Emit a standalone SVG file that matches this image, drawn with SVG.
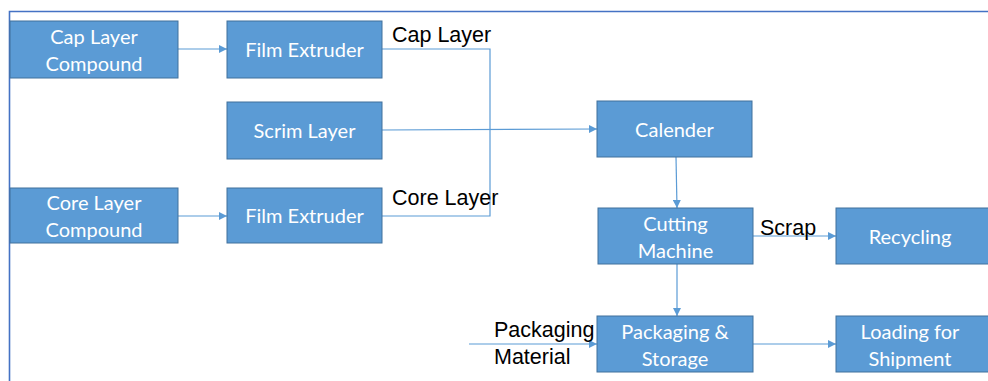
<svg xmlns="http://www.w3.org/2000/svg" width="988" height="381" viewBox="0 0 988 381">
<style>
.box{fill:#5B9BD5;stroke:#41719C;stroke-width:1}
.nt{fill:#fff;font-family:Lato,"Open Sans",sans-serif;font-size:20px;text-anchor:middle}
.lbl{fill:#000;font-family:"Liberation Sans",Arial,sans-serif;font-size:21.5px}
.con{fill:none;stroke:#5B9BD5;stroke-width:1.2}
</style>
<defs>
<marker id="arr" viewBox="0 0 10 10" refX="10" refY="5" markerWidth="8" markerHeight="8" markerUnits="userSpaceOnUse" orient="auto">
<path d="M0,0 L10,5 L0,10 z" fill="#5B9BD5"/>
</marker>
</defs>
<rect width="988" height="381" fill="#fff"/>
<path d="M9.5,381 V11.5 H988" fill="none" stroke="#4472C4" stroke-width="1.6"/>
<g id="connectors">
<path class="con" d="M178,49 H227" marker-end="url(#arr)"/>
<path class="con" d="M178,216 H227" marker-end="url(#arr)"/>
<path class="con" d="M382,49 H490 V216 H382"/>
<path class="con" d="M382,130 L597,129" marker-end="url(#arr)"/>
<path class="con" d="M676,157 L677,208" marker-end="url(#arr)"/>
<path class="con" d="M753,236 H836" marker-end="url(#arr)"/>
<path class="con" d="M677,264 V316" marker-end="url(#arr)"/>
<path class="con" d="M469,344 H597" marker-end="url(#arr)"/>
<path class="con" d="M753,344 H836" marker-end="url(#arr)"/>
</g>
<g id="cap-compound"><rect class="box" x="10" y="21" width="168" height="57"/><text class="nt" x="94" y="44">Cap Layer</text><text class="nt" x="94" y="71">Compound</text></g>
<g id="film-extruder-1"><rect class="box" x="227" y="21" width="155" height="57"/><text class="nt" x="304.5" y="57">Film Extruder</text></g>
<g id="scrim-layer"><rect class="box" x="227" y="102" width="155" height="57"/><text class="nt" x="304.5" y="138">Scrim Layer</text></g>
<g id="core-compound"><rect class="box" x="10" y="188" width="168" height="55"/><text class="nt" x="94" y="210">Core Layer</text><text class="nt" x="94" y="237">Compound</text></g>
<g id="film-extruder-2"><rect class="box" x="227" y="188" width="155" height="55"/><text class="nt" x="304.5" y="223">Film Extruder</text></g>
<g id="calender"><rect class="box" x="597" y="101" width="155" height="56"/><text class="nt" x="674.5" y="137">Calender</text></g>
<g id="cutting-machine"><rect class="box" x="598" y="208" width="155" height="56"/><text class="nt" x="675.5" y="231">Cutting</text><text class="nt" x="675.5" y="258">Machine</text></g>
<g id="recycling"><rect class="box" x="836" y="208" width="160" height="56"/><text class="nt" x="910" y="244">Recycling</text></g>
<g id="packaging-storage"><rect class="box" x="597" y="316" width="156" height="56"/><text class="nt" x="675" y="339">Packaging &amp;</text><text class="nt" x="675" y="366">Storage</text></g>
<g id="loading-shipment"><rect class="box" x="836" y="316" width="160" height="56"/><text class="nt" x="910" y="339">Loading for</text><text class="nt" x="910" y="366">Shipment</text></g>
<g id="labels">
<text class="lbl" x="392" y="42">Cap Layer</text>
<text class="lbl" x="392" y="205">Core Layer</text>
<text class="lbl" x="760" y="235">Scrap</text>
<text class="lbl" x="494" y="337">Packaging</text>
<text class="lbl" x="494" y="364">Material</text>
</g>
</svg>
